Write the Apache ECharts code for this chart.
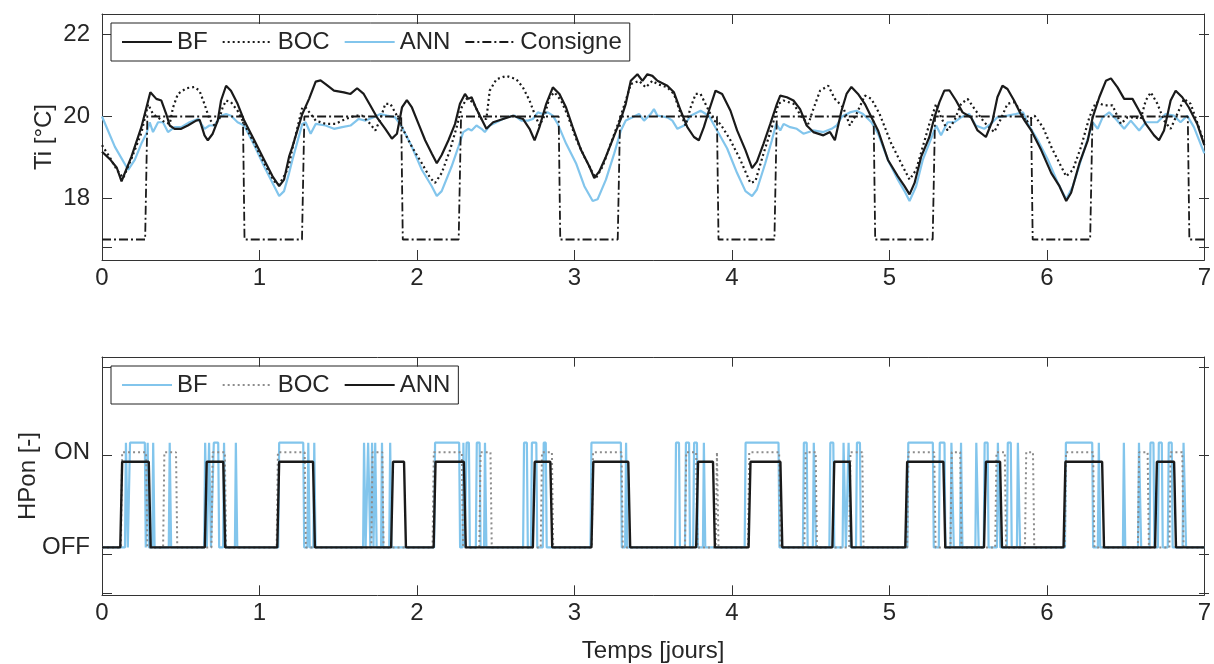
<!DOCTYPE html>
<html>
<head>
<meta charset="utf-8">
<script src="https://cdn.jsdelivr.net/npm/echarts@6/dist/echarts.min.js"></script>
<style>
    html, body { margin: 0; padding: 0; background: #fff; }
    #chart { width: 1214px; height: 664px; }
</style>
</head>
<body>
<div id="chart"></div>
<script>
    // temperature, [jour, °C]
    var bfTemp = [[0,19.14],[0.05,18.96],[0.094,18.75],[0.124,18.42],[0.187,19.02],[0.25,19.74],[0.307,20.59],[0.345,20.43],[0.377,20.39],[0.408,20.06],[0.43,19.78],[0.461,19.7],[0.503,19.7],[0.545,19.78],[0.598,19.9],[0.62,19.92],[0.651,19.54],[0.672,19.42],[0.703,19.58],[0.735,19.9],[0.756,20.39],[0.788,20.75],[0.819,20.63],[0.861,20.31],[0.903,19.9],[0.967,19.42],[1.03,18.94],[1.083,18.54],[1.125,18.3],[1.156,18.46],[1.188,19.02],[1.209,19.26],[1.272,20.06],[1.315,20.43],[1.357,20.85],[1.388,20.88],[1.42,20.79],[1.473,20.63],[1.536,20.59],[1.578,20.55],[1.62,20.69],[1.662,20.55],[1.704,20.27],[1.746,19.98],[1.799,19.7],[1.841,19.46],[1.873,19.58],[1.905,20.22],[1.936,20.4],[1.968,20.22],[2.01,19.82],[2.052,19.42],[2.094,19.1],[2.126,18.86],[2.157,19.06],[2.2,19.42],[2.242,19.82],[2.273,20.31],[2.305,20.55],[2.326,20.43],[2.347,20.47],[2.378,20.18],[2.41,19.94],[2.441,19.7],[2.484,19.86],[2.547,19.94],[2.61,20.02],[2.673,19.94],[2.715,19.7],[2.747,19.42],[2.778,19.74],[2.821,20.31],[2.863,20.71],[2.905,20.55],[2.947,20.22],[2.989,19.74],[3.042,19.18],[3.095,18.78],[3.126,18.5],[3.158,18.66],[3.2,19.02],[3.253,19.54],[3.295,19.94],[3.326,20.31],[3.358,20.87],[3.4,21.03],[3.432,20.87],[3.463,21.03],[3.495,20.99],[3.527,20.87],[3.59,20.75],[3.632,20.59],[3.675,20.14],[3.717,19.74],[3.759,19.5],[3.79,19.42],[3.822,19.74],[3.854,20.14],[3.896,20.63],[3.938,20.55],[3.991,20.14],[4.033,19.66],[4.086,19.18],[4.128,18.74],[4.159,18.9],[4.201,19.34],[4.244,19.82],[4.286,20.31],[4.307,20.51],[4.349,20.47],[4.391,20.39],[4.433,20.18],[4.475,19.78],[4.517,19.62],[4.581,19.54],[4.623,19.62],[4.654,19.42],[4.696,20.14],[4.728,20.55],[4.759,20.72],[4.801,20.55],[4.844,20.31],[4.886,19.98],[4.928,19.66],[4.991,18.94],[5.054,18.54],[5.096,18.3],[5.128,18.1],[5.16,18.38],[5.202,19.02],[5.254,19.5],[5.286,19.98],[5.318,20.35],[5.349,20.63],[5.381,20.64],[5.423,20.39],[5.465,20.1],[5.518,19.98],[5.56,19.66],[5.613,19.5],[5.655,19.9],[5.686,20.47],[5.718,20.75],[5.75,20.67],[5.792,20.39],[5.834,20.06],[5.859,19.9],[5.901,19.66],[5.964,19.18],[6.028,18.62],[6.08,18.3],[6.123,17.94],[6.154,18.14],[6.207,18.86],[6.26,19.42],[6.291,19.98],[6.333,20.47],[6.375,20.87],[6.407,20.93],[6.449,20.71],[6.491,20.43],[6.544,20.43],[6.586,20.14],[6.628,19.82],[6.681,19.54],[6.712,19.42],[6.744,19.66],[6.786,20.39],[6.818,20.63],[6.86,20.47],[6.902,20.22],[6.955,19.82],[7,19.3]];
    var bocTemp = [[0,19.3],[0.05,19.0],[0.094,18.7],[0.135,18.5],[0.19,19.0],[0.25,19.6],[0.293,20.3],[0.324,20.06],[0.398,19.86],[0.43,19.82],[0.451,20.22],[0.482,20.55],[0.535,20.69],[0.587,20.72],[0.619,20.63],[0.651,20.3],[0.682,19.94],[0.714,19.78],[0.745,19.94],[0.766,20.22],[0.788,20.39],[0.819,20.35],[0.861,20.14],[0.903,19.82],[0.967,19.34],[1.03,18.86],[1.093,18.42],[1.125,18.34],[1.167,18.62],[1.188,18.82],[1.209,19.22],[1.272,20.22],[1.293,20.22],[1.357,19.9],[1.42,19.82],[1.483,19.82],[1.546,19.94],[1.61,20.02],[1.652,20.02],[1.694,19.86],[1.736,19.66],[1.768,19.94],[1.799,20.31],[1.831,20.31],[1.873,20.02],[1.915,19.66],[1.968,19.26],[2.031,18.86],[2.084,18.5],[2.115,18.38],[2.157,18.62],[2.21,19.18],[2.252,19.74],[2.284,20.22],[2.315,20.43],[2.357,20.35],[2.41,19.94],[2.441,19.94],[2.462,20.63],[2.505,20.91],[2.568,20.99],[2.631,20.91],[2.673,20.71],[2.715,20.39],[2.747,20.06],[2.778,19.78],[2.81,20.02],[2.842,20.47],[2.873,20.59],[2.915,20.39],[2.958,20.02],[3.01,19.46],[3.063,19.02],[3.116,18.62],[3.137,18.5],[3.179,18.78],[3.231,19.34],[3.284,19.9],[3.326,20.39],[3.358,20.79],[3.41,20.87],[3.453,20.71],[3.495,20.87],[3.527,20.79],[3.59,20.71],[3.632,20.55],[3.675,20.06],[3.706,19.78],[3.738,20.22],[3.77,20.55],[3.801,20.55],[3.843,20.22],[3.885,19.9],[3.927,19.82],[3.991,19.42],[4.054,18.94],[4.117,18.38],[4.149,18.42],[4.201,19.1],[4.254,19.74],[4.296,20.31],[4.328,20.39],[4.391,20.31],[4.444,19.98],[4.486,19.82],[4.517,20.18],[4.56,20.63],[4.612,20.75],[4.654,20.43],[4.707,20.22],[4.749,19.78],[4.791,20.06],[4.844,20.51],[4.886,20.43],[4.938,20.06],[5.012,19.34],[5.075,18.86],[5.128,18.46],[5.17,18.7],[5.212,19.26],[5.254,19.82],[5.297,20.31],[5.328,19.98],[5.37,19.66],[5.413,19.9],[5.455,20.31],[5.497,20.43],[5.549,20.14],[5.602,19.86],[5.665,19.62],[5.708,19.94],[5.75,20.31],[5.792,20.35],[5.834,20.14],[5.869,19.86],[5.922,20.02],[5.975,19.74],[6.028,19.26],[6.08,18.86],[6.123,18.54],[6.165,18.7],[6.217,19.26],[6.27,19.98],[6.312,20.35],[6.365,20.27],[6.417,20.27],[6.47,19.82],[6.512,19.98],[6.554,19.98],[6.596,19.94],[6.628,20.39],[6.66,20.59],[6.702,20.31],[6.744,19.9],[6.786,19.7],[6.828,20.06],[6.871,20.43],[6.913,20.31],[6.965,19.74],[7,19.35]];
    var annTemp = [[0,20.0],[0.082,19.26],[0.166,18.7],[0.208,18.94],[0.25,19.34],[0.282,19.58],[0.303,19.86],[0.324,19.62],[0.356,19.86],[0.387,19.86],[0.419,19.62],[0.461,19.74],[0.503,19.74],[0.556,19.86],[0.61,19.94],[0.651,19.7],[0.682,19.78],[0.714,19.78],[0.756,20.02],[0.788,20.06],[0.819,20.02],[0.861,19.86],[0.903,19.78],[0.967,19.3],[1.03,18.78],[1.083,18.38],[1.125,18.06],[1.156,18.18],[1.188,18.62],[1.209,18.94],[1.272,19.82],[1.293,19.86],[1.325,19.58],[1.357,19.82],[1.42,19.78],[1.473,19.7],[1.525,19.74],[1.578,19.78],[1.63,19.94],[1.673,19.9],[1.725,19.98],[1.768,20.06],[1.81,20.02],[1.862,19.98],[1.905,19.74],[1.968,19.26],[2.031,18.7],[2.094,18.3],[2.126,18.06],[2.157,18.18],[2.22,18.78],[2.263,19.26],[2.294,19.62],[2.326,19.7],[2.347,19.66],[2.378,19.78],[2.41,19.7],[2.431,19.62],[2.462,19.78],[2.505,19.86],[2.568,19.98],[2.62,20.02],[2.663,19.9],[2.705,19.9],[2.736,19.94],[2.768,20.1],[2.8,20.06],[2.831,20.1],[2.863,20.02],[2.894,19.82],[2.947,19.34],[3.01,18.86],[3.063,18.3],[3.116,17.94],[3.147,17.98],[3.2,18.46],[3.253,19.1],[3.295,19.66],[3.326,19.9],[3.369,19.98],[3.41,20.06],[3.442,19.9],[3.484,20.06],[3.505,20.18],[3.527,20.02],[3.59,19.98],[3.622,19.9],[3.654,19.7],[3.696,19.78],[3.738,20.02],[3.801,20.14],[3.854,20.02],[3.906,19.66],[3.97,19.22],[4.033,18.62],[4.086,18.18],[4.128,18.06],[4.159,18.22],[4.212,18.86],[4.254,19.42],[4.281,19.82],[4.307,19.66],[4.328,19.82],[4.37,19.74],[4.412,19.7],[4.454,19.58],[4.517,19.66],[4.581,19.62],[4.633,19.7],[4.665,19.78],[4.699,20.0],[4.749,20.1],[4.791,20.14],[4.833,20.06],[4.886,19.86],[4.928,19.58],[4.991,18.94],[5.054,18.46],[5.096,18.18],[5.128,17.94],[5.17,18.3],[5.212,18.94],[5.265,19.46],[5.297,19.78],[5.328,19.54],[5.37,19.86],[5.413,19.86],[5.455,19.98],[5.507,20.06],[5.549,19.78],[5.602,19.7],[5.644,19.82],[5.686,19.98],[5.75,20.02],[5.802,20.06],[5.849,20.1],[5.88,19.82],[5.943,19.42],[6.007,18.94],[6.07,18.38],[6.123,17.98],[6.165,18.3],[6.217,18.94],[6.27,19.58],[6.291,19.86],[6.323,19.7],[6.354,19.98],[6.396,20.1],[6.438,19.94],[6.491,19.7],[6.533,19.9],[6.586,19.66],[6.628,19.86],[6.702,19.86],[6.754,20.06],[6.807,20.02],[6.849,19.86],[6.891,20.02],[6.934,19.74],[7,19.1]];
    var consigne = [[0,17],[0.274,17],[0.288,20],[0.895,20],[0.905,17],[1.27,17],[1.285,20],[1.9,20],[1.91,17],[2.265,17],[2.28,20],[2.9,20],[2.91,17],[3.275,17],[3.29,20],[3.905,20],[3.915,17],[4.27,17],[4.285,20],[4.9,20],[4.91,17],[5.275,17],[5.29,20],[5.9,20],[5.91,17],[6.275,17],[6.29,20],[6.895,20],[6.905,17],[7,17]];

    // HPon : periodes de marche [debut, fin] en jours
    var bfOn = [[0.152,0.158],[0.178,0.272],[0.29,0.292],[0.325,0.328],[0.43,0.433],[0.655,0.66],[0.68,0.686],[0.71,0.738],[0.775,0.778],[0.85,0.853],[1.125,1.278],[1.31,1.313],[1.348,1.35],[1.664,1.668],[1.69,1.698],[1.715,1.718],[1.735,1.738],[1.778,1.78],[1.83,1.832],[2.115,2.268],[2.295,2.298],[2.315,2.33],[2.38,2.398],[2.432,2.435],[2.68,2.698],[2.73,2.758],[2.805,2.818],[3.108,3.295],[3.328,3.33],[3.645,3.664],[3.708,3.728],[3.76,3.778],[3.822,3.825],[4.087,4.296],[4.457,4.475],[4.52,4.528],[4.625,4.644],[4.709,4.718],[4.741,4.749],[4.794,4.813],[5.12,5.276],[5.32,5.35],[5.394,5.403],[5.455,5.458],[5.552,5.561],[5.605,5.624],[5.689,5.698],[5.752,5.771],[5.816,5.824],[6.121,6.288],[6.33,6.333],[6.489,6.492],[6.585,6.593],[6.658,6.677],[6.711,6.73],[6.774,6.793],[6.868,6.878]];
    var bocOn = [[0.128,0.28],[0.396,0.47],[0.703,0.78],[1.117,1.287],[1.718,1.78],[2.107,2.285],[2.404,2.467],[2.794,2.857],[3.118,3.299],[3.71,3.773],[3.905,3.907],[4.11,4.3],[4.468,4.532],[4.753,4.828],[5.121,5.285],[5.396,5.45],[5.68,5.733],[5.869,5.912],[6.122,6.294],[6.586,6.64],[6.786,6.86]];
    var annOn = [[0.128,0.297],[0.665,0.77],[1.125,1.34],[1.848,1.918],[2.118,2.298],[2.748,2.847],[3.12,3.342],[3.785,3.88],[4.118,4.308],[4.65,4.748],[5.113,5.343],[5.613,5.703],[6.118,6.351],[6.699,6.808]];
    // niveaux ON affiches (decales pour la lisibilite)
    var bfLevel = 1.1, bocLevel = 1.0, annLevel = 0.9;

    // graduations
    var xTicks = [1, 2, 3, 4, 5, 6];
    var tiTicks = [16.8, 18, 20, 22];
    var tiLabels = [18, 20, 22];
    var hpTicks = [-0.4, 0, 1, 1.9];
    var hpLabels = [0, 1];

    function stepLine(periods, level, ramp) {
        var pts = [[0, 0]];
        periods.forEach(function (p) {
            pts.push([p[0] - ramp, 0], [p[0], level], [p[1], level], [p[1] + ramp, 0]);
        });
        pts.push([7, 0]);
        return pts;
    }

    var blue = '#82c5ec';
    var txt = '#262626';
    var axisCol = '#333';
    var font = 'Liberation Sans, Arial, sans-serif';
    var L = 102, W = 1107, H = 246, T1 = 14, T2 = 357, TL = 10;
    var tiRange = [16.5, 22.5], hpRange = [-0.5, 2];

    // axe visible (bord du cadre + etiquettes), sans graduation
    function frameAx(grid, pos, min, max, labels, extra) {
        var ax = {
            type: 'value', gridIndex: grid, position: pos, min: min, max: max,
            axisLine: {show: true, onZero: false, lineStyle: {color: axisCol, width: 1}},
            axisTick: {show: false},
            axisLabel: {show: false},
            splitLine: {show: false}
        };
        if (labels) {
            ax.axisLabel = Object.assign({show: true, fontSize: 24, color: txt, fontFamily: font}, labels);
        }
        return Object.assign(ax, extra || {});
    }

    // axe y invisible place sur le bord oppose : ses graduations pointent vers l'interieur
    function tickAx(grid, pos, min, max, values) {
        return {
            type: 'value', gridIndex: grid, position: pos, offset: -W, min: min, max: max,
            axisLine: {show: false, onZero: false},
            axisTick: {show: true, length: TL, customValues: values, lineStyle: {color: axisCol, width: 1}},
            axisLabel: {show: false},
            splitLine: {show: false}
        };
    }

    function hiddenAx(grid, min, max) {
        return {type: 'value', gridIndex: grid, min: min, max: max, show: false};
    }

    // graduations x interieures (haut et bas du cadre), longueur TL px convertie en unites de l'axe y
    function xTickSeries(xIdx, yIdx, range) {
        var d = (range[1] - range[0]) * TL / H;
        var segs = [];
        xTicks.forEach(function (v) {
            segs.push([{coord: [v, range[0]]}, {coord: [v, range[0] + d]}]);
            segs.push([{coord: [v, range[1]]}, {coord: [v, range[1] - d]}]);
        });
        return {
            type: 'line', xAxisIndex: xIdx, yAxisIndex: yIdx, data: [], symbol: 'none', silent: true,
            markLine: {
                silent: true, symbol: 'none', animation: false,
                label: {show: false},
                lineStyle: {color: axisCol, width: 1, type: 'solid'},
                emphasis: {disabled: true},
                data: segs
            }
        };
    }

    function legendOf(top, names) {
        return {
            left: 111, top: top, orient: 'horizontal',
            data: names,
            itemWidth: 50, itemHeight: 14, itemGap: 14,
            padding: [5, 8, 5, 10],
            borderColor: '#222', borderWidth: 1, backgroundColor: '#fff',
            itemStyle: {color: 'rgba(0,0,0,0)', borderColor: 'rgba(0,0,0,0)', borderWidth: 0},
            formatter: function (n) { return n.trim(); },
            textStyle: {fontSize: 24, color: txt, fontFamily: font, lineHeight: 28}
        };
    }

    var nameStyle = {fontSize: 24, color: txt, fontFamily: font};

    var chart = echarts.init(document.getElementById('chart'));
    var option = {
        animation: false,
        backgroundColor: '#fff',
        grid: [
            {left: L, top: T1, width: W, height: H},
            {left: L, top: T2, width: W, height: H},
            {left: L, top: T1, width: W, height: H},
            {left: L, top: T2, width: W, height: H}
        ],
        legend: [
            legendOf(23, ['BF', 'BOC', 'ANN', 'Consigne']),
            legendOf(366, ['BF ', 'BOC ', 'ANN '])
        ],
        xAxis: [
            frameAx(0, 'bottom', 0, 7, {margin: 6}, {interval: 1}),
            frameAx(0, 'top', 0, 7, null, {interval: 1}),
            frameAx(1, 'bottom', 0, 7, {margin: 6}, {
                interval: 1, name: 'Temps [jours]', nameLocation: 'middle', nameGap: 44, nameTextStyle: nameStyle
            }),
            frameAx(1, 'top', 0, 7, null, {interval: 1}),
            hiddenAx(2, 0, 7),
            hiddenAx(3, 0, 7)
        ],
        yAxis: [
            frameAx(0, 'left', tiRange[0], tiRange[1], {customValues: tiLabels, margin: 12}, {
                name: 'Ti [°C]', nameLocation: 'middle', nameGap: 46, nameMoveOverlap: false, nameTextStyle: nameStyle
            }),
            frameAx(0, 'right', tiRange[0], tiRange[1], null),
            frameAx(1, 'left', hpRange[0], hpRange[1], {
                customValues: hpLabels, margin: 12,
                formatter: function (v) { return v === 1 ? 'ON' : 'OFF'; }
            }, {
                name: 'HPon [-]', nameLocation: 'middle', nameGap: 62, nameMoveOverlap: false, nameTextStyle: nameStyle
            }),
            frameAx(1, 'right', hpRange[0], hpRange[1], null),
            tickAx(2, 'right', tiRange[0], tiRange[1], tiTicks),
            tickAx(2, 'left', tiRange[0], tiRange[1], tiTicks),
            tickAx(3, 'right', hpRange[0], hpRange[1], hpTicks),
            tickAx(3, 'left', hpRange[0], hpRange[1], hpTicks)
        ],
        series: [
            {name: 'BF', type: 'line', xAxisIndex: 0, yAxisIndex: 0, data: bfTemp, symbol: 'none',
                lineStyle: {color: '#1a1a1a', width: 2.2}, itemStyle: {color: '#1a1a1a'}, z: 4},
            {name: 'BOC', type: 'line', xAxisIndex: 0, yAxisIndex: 0, data: bocTemp, symbol: 'none',
                lineStyle: {color: '#1a1a1a', width: 2.2, type: [2, 3]}, itemStyle: {color: '#1a1a1a'}, z: 3},
            {name: 'ANN', type: 'line', xAxisIndex: 0, yAxisIndex: 0, data: annTemp, symbol: 'none',
                lineStyle: {color: blue, width: 2.2}, itemStyle: {color: blue}, z: 2},
            {name: 'Consigne', type: 'line', xAxisIndex: 0, yAxisIndex: 0, data: consigne, symbol: 'none',
                lineStyle: {color: '#1a1a1a', width: 1.8, type: [9, 3, 2, 3]}, itemStyle: {color: '#1a1a1a'}, z: 5},

            {name: 'BF ', type: 'line', xAxisIndex: 2, yAxisIndex: 2, data: stepLine(bfOn, bfLevel, 0.006), symbol: 'none',
                lineStyle: {color: blue, width: 2.2}, itemStyle: {color: blue}, z: 2},
            {name: 'BOC ', type: 'line', xAxisIndex: 2, yAxisIndex: 2, data: stepLine(bocOn, bocLevel, 0.008), symbol: 'none',
                lineStyle: {color: '#8c8c8c', width: 2, type: [2, 3]}, itemStyle: {color: '#8c8c8c'}, z: 3},
            {name: 'ANN ', type: 'line', xAxisIndex: 2, yAxisIndex: 2, data: stepLine(annOn, annLevel, 0.012), symbol: 'none',
                lineStyle: {color: '#1a1a1a', width: 2.4}, itemStyle: {color: '#1a1a1a'}, z: 4},

            xTickSeries(0, 0, tiRange),
            xTickSeries(2, 2, hpRange)
        ]
    };
    chart.setOption(option);
</script>
</body>
</html>
